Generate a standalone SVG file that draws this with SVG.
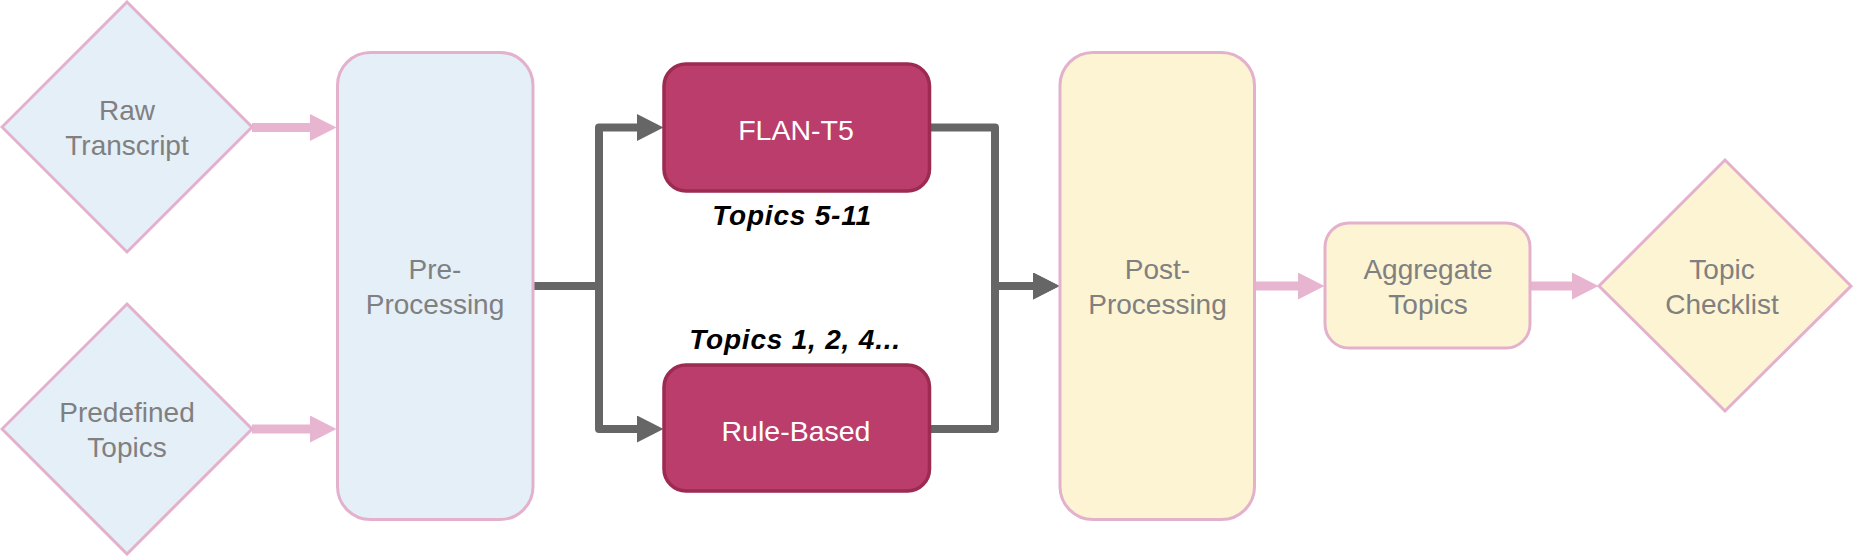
<svg xmlns="http://www.w3.org/2000/svg" width="1853" height="556" viewBox="0 0 1853 556">
<style>
.blue{fill:#E5EFF8;stroke:#E4B1CD;stroke-width:3}
.yel{fill:#FDF4D4;stroke:#E4B1CD;stroke-width:3}
.red{fill:#BA3D6C;stroke:#9C2A51;stroke-width:3.5}
.lbl{font-family:"Liberation Sans",Arial,sans-serif;font-size:28px;fill:#808080;text-anchor:middle}
.wlbl{font-family:"Liberation Sans",Arial,sans-serif;font-size:28.5px;fill:#FFFFFF;text-anchor:middle}
.tlbl{font-family:"Liberation Sans",Arial,sans-serif;font-size:28px;font-weight:bold;font-style:italic;fill:#000000;text-anchor:middle;letter-spacing:0.8px}
.pink{fill:none;stroke:#E8B5D1;stroke-width:9}
.gray{fill:none;stroke:#666666;stroke-width:8;stroke-linejoin:round}
</style>
<defs>
<marker id="ap" markerUnits="userSpaceOnUse" markerWidth="28" markerHeight="28" refX="1" refY="13.5" orient="auto">
<path d="M0,0 L26.5,13.5 L0,27 z" fill="#E8B5D1"/>
</marker>
<marker id="ag" markerUnits="userSpaceOnUse" markerWidth="28" markerHeight="28" refX="1" refY="13.5" orient="auto">
<path d="M0,0 L26.5,13.5 L0,27 z" fill="#666666"/>
</marker>
</defs>
<g id="connectors">
<path class="pink" d="M252,127.5 H311" marker-end="url(#ap)"/>
<path class="pink" d="M252,429 H311" marker-end="url(#ap)"/>
<path class="pink" d="M1255,286 H1299" marker-end="url(#ap)"/>
<path class="pink" d="M1531,286 H1573" marker-end="url(#ap)"/>
<path class="gray" d="M533,286 H599 V127.5 H638" marker-end="url(#ag)"/>
<path class="gray" d="M533,286 H599 V429 H638" marker-end="url(#ag)"/>
<path class="gray" d="M929,127.5 H995 V286 H1034" marker-end="url(#ag)"/>
<path class="gray" d="M929,429 H995 V286 H1034" marker-end="url(#ag)"/>
</g>
<g id="raw-transcript">
<polygon class="blue" points="127,2 252,127 127,252 2,127"/>
<text class="lbl" x="127" y="120">Raw</text>
<text class="lbl" x="127" y="155">Transcript</text>
</g>
<g id="predefined-topics">
<polygon class="blue" points="127,304 252,429 127,554 2,429"/>
<text class="lbl" x="127" y="422">Predefined</text>
<text class="lbl" x="127" y="457">Topics</text>
</g>
<g id="pre-processing">
<rect class="blue" x="337.5" y="52.5" width="195.5" height="467" rx="33" ry="33"/>
<text class="lbl" x="435" y="279">Pre-</text>
<text class="lbl" x="435" y="314">Processing</text>
</g>
<g id="flan-t5">
<rect class="red" x="664" y="64" width="265.5" height="127" rx="22" ry="22"/>
<text class="wlbl" x="796" y="140">FLAN-T5</text>
</g>
<g id="rule-based">
<rect class="red" x="664" y="365" width="265.5" height="126" rx="22" ry="22"/>
<text class="wlbl" x="796" y="441">Rule-Based</text>
</g>
<g id="label-topics-5-11">
<text class="tlbl" x="792" y="225">Topics 5-11</text>
</g>
<g id="label-topics-1-2-4">
<text class="tlbl" x="795" y="349">Topics 1, 2, 4...</text>
</g>
<g id="post-processing">
<rect class="yel" x="1060" y="52.5" width="194.5" height="467" rx="33" ry="33"/>
<text class="lbl" x="1157.5" y="279">Post-</text>
<text class="lbl" x="1157.5" y="314">Processing</text>
</g>
<g id="aggregate-topics">
<rect class="yel" x="1325" y="223" width="205" height="125" rx="24" ry="24"/>
<text class="lbl" x="1428" y="279">Aggregate</text>
<text class="lbl" x="1428" y="314">Topics</text>
</g>
<g id="topic-checklist">
<polygon class="yel" points="1725,160 1851,286 1725,411 1599,286"/>
<text class="lbl" x="1722" y="279">Topic</text>
<text class="lbl" x="1722" y="314">Checklist</text>
</g>
</svg>
